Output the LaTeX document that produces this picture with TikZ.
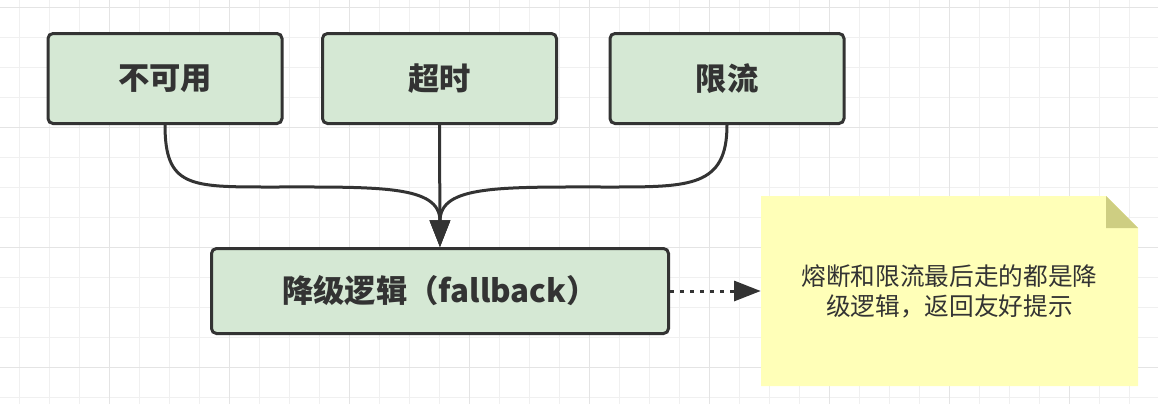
\documentclass[tikz,border=0pt]{standalone}
\usepackage{fontspec}
\setmainfont{Noto Sans CJK SC}
\usepackage{tikz}
\usetikzlibrary{arrows.meta}
\definecolor{rand}{HTML}{333333}
\definecolor{gruen}{HTML}{D5E8D4}
\definecolor{notizgelb}{HTML}{FFFFB8}
\definecolor{knick}{HTML}{CECE82}
\definecolor{rasterfein}{HTML}{F0F0F0}
\definecolor{rastergrob}{HTML}{E4E4E4}

\begin{document}
\begin{tikzpicture}[x=0.75pt, y=-0.75pt,
		>={Triangle[length=20pt,width=15pt]},   %Pfeilspitzen
		kasten/.style={draw=rand, fill=gruen, line width=2.25pt, rounded corners=3.75pt,
			minimum width=175.5pt, minimum height=67.5pt, text=rand,
			font=\fontsize{23.5}{28}\selectfont\bfseries},
		notiz/.style={minimum width=282.75pt, minimum height=142.5pt, inner sep=0pt,
			align=center, text=rand, font=\fontsize{18.5}{22.5}\selectfont},
		kante/.style={->, draw=rand, line width=2.25pt}]
	\useasboundingbox (0,0) rectangle (1158,404);
	%Raster zeichnen
	\foreach \x in {0,...,38} \draw[rasterfein, line width=0.75pt] (19+30*\x,0) -- (19+30*\x,404);
	\foreach \y in {0,...,13} \draw[rasterfein, line width=0.75pt] (0,7+30*\y) -- (1158,7+30*\y);
	\foreach \x in {0,...,8} \draw[rastergrob, line width=0.75pt] (109+120*\x,0) -- (109+120*\x,404);
	\foreach \y in {0,...,3} \draw[rastergrob, line width=0.75pt] (0,7+120*\y) -- (1158,7+120*\y);
	% Kaesten
	\node[kasten] (bukeyong) at (165,78.5) {不可用};
	\node[kasten] (chaoshi) at (439.5,78.5) {超时};
	\node[kasten] (xianliu) at (727,78.5) {限流};
	\node[kasten, minimum width=342.75pt, minimum height=63.75pt] (jiangji) at (440,291) {降级逻辑（fallback）};
	% Notiz
	\fill[notizgelb] (761,196) -- (1106,196) -- (1138,228) -- (1138,386) -- (761,386) -- cycle;
	\fill[knick] (1106,196) -- (1106,228) -- (1138,228) -- cycle;
	\node[notiz] (hinweis) at (949.5,291) {熔断和限流最后走的都是降\\级逻辑，返回友好提示};
	% Kanten
	\coordinate (lknick) at (270,187);
	\coordinate (rknick) at (610,187);
	\draw[kante] (chaoshi) -- (jiangji);
	\draw[kante] (bukeyong.south) .. controls +(0,62) and +(-80,0) .. (lknick) .. controls +(110,0) and +(0,-62) .. (jiangji.north);
	\draw[kante] (xianliu.south) .. controls +(0,62) and +(80,0) .. (rknick) .. controls +(-110,0) and +(0,-62) .. (jiangji.north);
	\draw[kante, dash pattern=on 3pt off 4.5pt] (jiangji.east) -- (hinweis.west);
\end{tikzpicture}
\end{document}
